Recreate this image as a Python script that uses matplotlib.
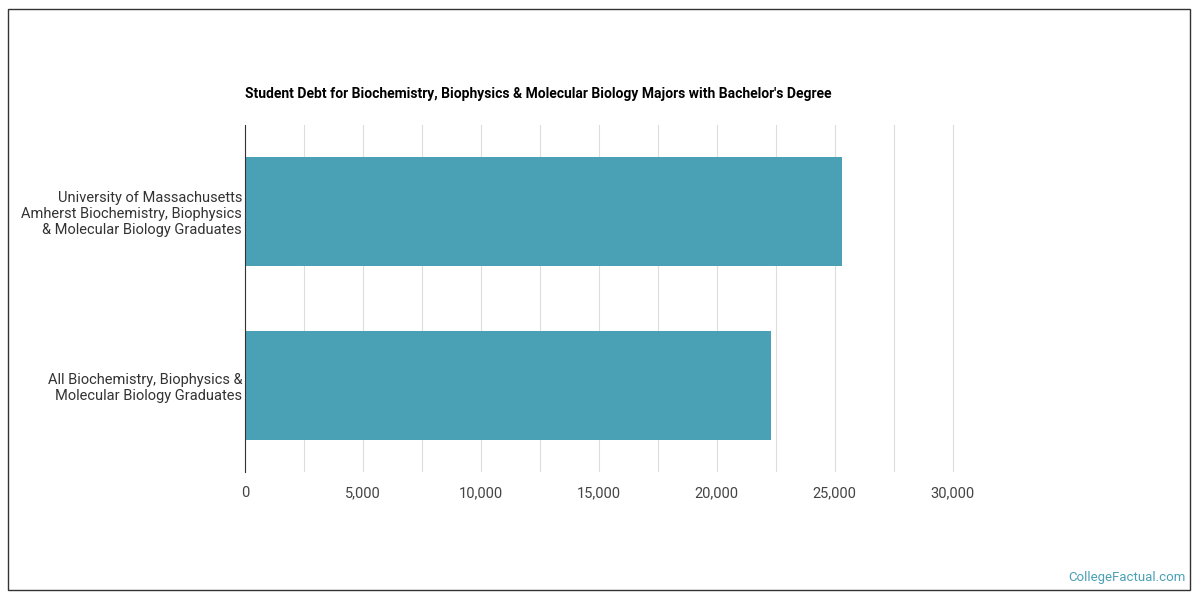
import matplotlib.pyplot as plt
from matplotlib.patches import Rectangle

plt.rcParams['font.family'] = ['Roboto', 'DejaVu Sans']

categories = ['University of Massachusetts\nAmherst Biochemistry, Biophysics\n& Molecular Biology Graduates',
              'All Biochemistry, Biophysics &\nMolecular Biology Graduates']
debt = [25300, 22300]

fig = plt.figure(figsize=(12, 6), dpi=100)
ax = fig.add_axes([0.204, 0.213, 0.639, 0.579])

ax.barh(range(len(categories)), debt, height=0.625, color='#4aa0b5', zorder=2)
ax.set_ylim(1.5, -0.5)
ax.set_xlim(0, 32500)
ax.set_xticks(range(0, 30001, 5000))
ax.set_xticklabels([f'{v:,}' for v in range(0, 30001, 5000)], fontsize=10.5, color='#444444')
ax.set_xticks(range(2500, 30001, 5000), minor=True)
ax.set_yticks(range(len(categories)))
ax.set_yticklabels(categories, fontsize=10.5, color='#333333')
ax.grid(axis='x', which='both', color='#dddddd', linewidth=0.8, zorder=0)
ax.tick_params(length=0, which='both', pad=10)
ax.tick_params(axis='y', pad=2)
for s in ['top', 'right', 'bottom']:
    ax.spines[s].set_visible(False)
ax.spines['left'].set_color('#333333')

fig.text(0.204, 0.843, "Student Debt for Biochemistry, Biophysics & Molecular Biology Majors with Bachelor's Degree",
         fontsize=10, fontweight='bold', va='center')
fig.text(0.988, 0.038, 'CollegeFactual.com', fontsize=9.5, color='#4aa0b5', ha='right', va='center')
fig.patches.append(Rectangle((8/1200, 10/600), 1182/1200, 581/600, transform=fig.transFigure,
                             fill=False, edgecolor='#333333', linewidth=1))

fig.savefig('out.png')
